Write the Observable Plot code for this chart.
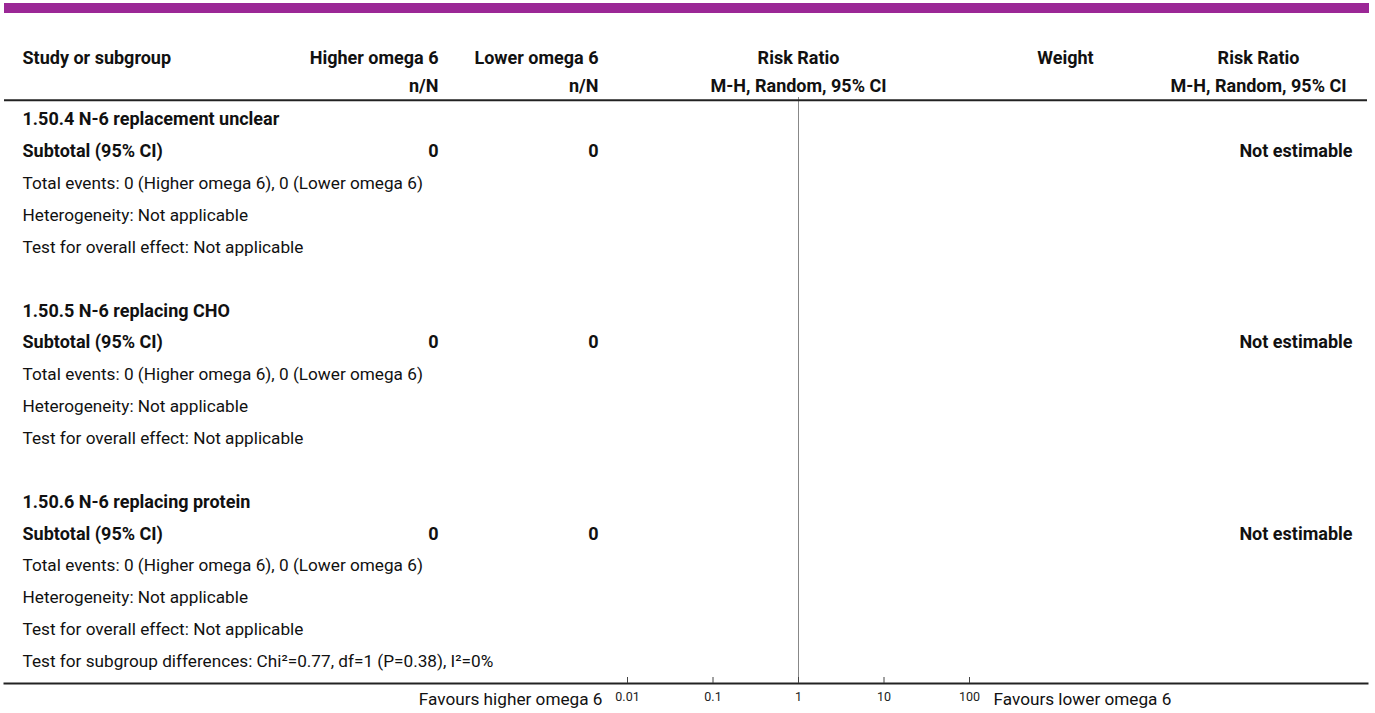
<!DOCTYPE html>
<html>
<head>
<meta charset="utf-8">
<script src="https://cdn.jsdelivr.net/npm/d3@7"></script>
<script src="https://cdn.jsdelivr.net/npm/@observablehq/plot@0.6"></script>
<style>
  html, body { margin: 0; padding: 0; background: #fff; overflow: hidden; }
  #bar { position: absolute; left: 4px; top: 3px; width: 1365px; height: 10px; background: #9b2896; }
  #chart svg { display: block; }
</style>
</head>
<body>
<div id="bar"></div>
<div id="chart"></div>
<script>
// ---- data ----
const headerTop = ["Study or subgroup", "Higher omega 6", "Lower omega 6", "Risk Ratio", "Weight", "Risk Ratio"];
const headerSub = ["", "n/N", "n/N", "M-H, Random, 95% CI", "", "M-H, Random, 95% CI"];
const subgroups = ["1.50.4 N-6 replacement unclear", "1.50.5 N-6 replacing CHO", "1.50.6 N-6 replacing protein"];
const higherTotals = [0, 0, 0];
const lowerTotals = [0, 0, 0];
const higherEvents = [0, 0, 0];
const lowerEvents = [0, 0, 0];
const effects = ["Not estimable", "Not estimable", "Not estimable"];
const heterogeneity = ["Not applicable", "Not applicable", "Not applicable"];
const overallEffect = ["Not applicable", "Not applicable", "Not applicable"];
const subgroupTest = "Test for subgroup differences: Chi\u00B2=0.77, df=1 (P=0.38), I\u00B2=0%";
const tickValues = [0.01, 0.1, 1, 10, 100];
const tickLabels = ["0.01", "0.1", "1", "10", "100"];
const favours = ["Favours higher omega 6", "Favours lower omega 6"];

// ---- table rows built from the arrays ----
const boldRows = [];
const plainRows = [];
const subtotalRows = [];
subgroups.forEach((name, g) => {
  const base = g * 6;
  boldRows.push({ i: base, text: name });
  boldRows.push({ i: base + 1, text: "Subtotal (95% CI)" });
  subtotalRows.push({ i: base + 1, higher: higherTotals[g], lower: lowerTotals[g], effect: effects[g] });
  plainRows.push({ i: base + 2, text: `Total events: ${higherEvents[g]} (Higher omega 6), ${lowerEvents[g]} (Lower omega 6)` });
  plainRows.push({ i: base + 3, text: `Heterogeneity: ${heterogeneity[g]}` });
  plainRows.push({ i: base + 4, text: `Test for overall effect: ${overallEffect[g]}` });
});
plainRows.push({ i: 17, text: subgroupTest });

// ---- layout (pixels / row indices) ----
const L = {
  font: "Roboto, Lato, sans-serif",
  size: 17.2,
  boldSize: 18,
  tickSize: 12.5,
  colStudy: 18,     // dx from frame left (frame left = 4)
  colHigher: 434,   // right edge
  colLower: 594,
  colWeight: 1061,
  colRR2: 1254,
  colEffect: -15,   // dx from frame right
  h1: -1.93,
  h2: -1.05,
  hRule: -0.6
};
const ink = "#111";
const B = { fontWeight: "bold", fontSize: L.boldSize, fill: ink };

const chart = Plot.plot({
  width: 1375,
  height: 713,
  marginLeft: 4,
  marginRight: 8,
  marginTop: 0,
  marginBottom: 30,
  style: { fontFamily: L.font, fontSize: L.size + "px", color: ink, background: "#fff" },
  x: { type: "log", domain: [0.01, 100], range: [627, 969], axis: null },
  y: { type: "linear", domain: [0, 17], range: [119, 661], axis: null },
  marks: [
    // line of no effect
    Plot.ruleX([1], { stroke: "#888", strokeWidth: 1, insetTop: 97 }),
    // header rule
    Plot.ruleY([L.hRule], { stroke: "#222", strokeWidth: 2 }),
    // bottom axis line
    Plot.frame({ anchor: "bottom", stroke: "#222", strokeWidth: 2 }),
    // ticks
    Plot.tickX(tickValues, { x: d => d, stroke: "#444", strokeWidth: 1, insetTop: 677 }),
    // tick labels
    Plot.text(tickValues, { x: d => d, text: (d, i) => tickLabels[i], frameAnchor: "bottom", dy: 17, fontSize: L.tickSize, fill: "#222" }),
    // favours labels
    Plot.text([favours[0]], { x: [0.01], text: d => d, frameAnchor: "bottom", dy: 21, dx: -25, textAnchor: "end", fill: ink }),
    Plot.text([favours[1]], { x: [100], text: d => d, frameAnchor: "bottom", dy: 21, dx: 24, textAnchor: "start", fill: ink }),

    // headers
    Plot.text([headerTop[0]], { text: d => d, y: [L.h1], frameAnchor: "left", dx: L.colStudy, textAnchor: "start", ...B }),
    Plot.text([headerTop[1]], { text: d => d, y: [L.h1], frameAnchor: "left", dx: L.colHigher, textAnchor: "end", ...B }),
    Plot.text([headerTop[2]], { text: d => d, y: [L.h1], frameAnchor: "left", dx: L.colLower, textAnchor: "end", ...B }),
    Plot.text([headerTop[3]], { text: d => d, x: [1], y: [L.h1], textAnchor: "middle", ...B }),
    Plot.text([headerTop[4]], { text: d => d, y: [L.h1], frameAnchor: "left", dx: L.colWeight, textAnchor: "middle", ...B }),
    Plot.text([headerTop[5]], { text: d => d, y: [L.h1], frameAnchor: "left", dx: L.colRR2, textAnchor: "middle", ...B }),
    Plot.text([headerSub[1]], { text: d => d, y: [L.h2], frameAnchor: "left", dx: L.colHigher, textAnchor: "end", ...B }),
    Plot.text([headerSub[2]], { text: d => d, y: [L.h2], frameAnchor: "left", dx: L.colLower, textAnchor: "end", ...B }),
    Plot.text([headerSub[3]], { text: d => d, x: [1], y: [L.h2], textAnchor: "middle", ...B }),
    Plot.text([headerSub[5]], { text: d => d, y: [L.h2], frameAnchor: "left", dx: L.colRR2, textAnchor: "middle", ...B }),

    // body rows
    Plot.text(boldRows, { y: "i", text: "text", frameAnchor: "left", dx: L.colStudy, textAnchor: "start", ...B }),
    Plot.text(plainRows, { y: "i", text: "text", frameAnchor: "left", dx: L.colStudy, textAnchor: "start", fill: ink }),
    Plot.text(subtotalRows, { y: "i", text: d => String(d.higher), frameAnchor: "left", dx: L.colHigher, textAnchor: "end", ...B }),
    Plot.text(subtotalRows, { y: "i", text: d => String(d.lower), frameAnchor: "left", dx: L.colLower, textAnchor: "end", ...B }),
    Plot.text(subtotalRows, { y: "i", text: "effect", frameAnchor: "right", dx: L.colEffect, textAnchor: "end", ...B })
  ]
});
document.getElementById("chart").appendChild(chart);
</script>
</body>
</html>
